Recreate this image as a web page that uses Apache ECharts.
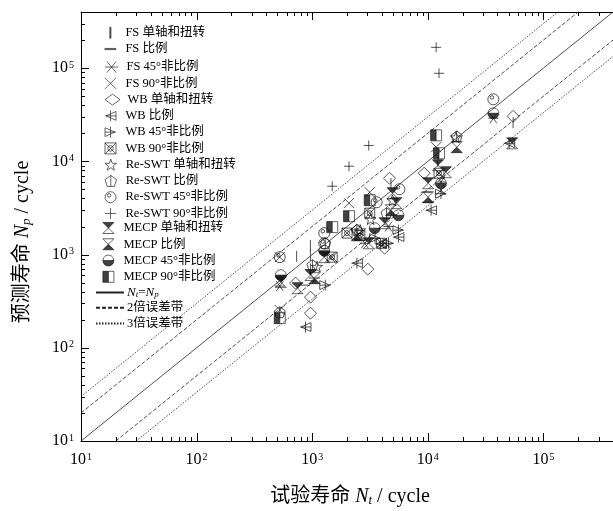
<!DOCTYPE html>
<html><head><meta charset="utf-8">
<script src="https://cdn.jsdelivr.net/npm/echarts@6/dist/echarts.min.js"></script>
<style>html,body{margin:0;padding:0;background:#fff}#c{width:613px;height:511px}</style>
</head><body><div id="c"></div>
<script>
// ---------- data (Nt, Np) ----------
const fsUniaxial   = [[733,960],[966,1250],[966,986],[966,700],[4800,5800],[54700,26000],[12200,10000]];
const fsProp       = [[2437,1460],[857,470],[9700,4660],[10000,3640],[1045,560]];
const fs45         = [[36900,29000],[2851,1320],[524,459],[13000,6000],[4573,2000]];
const fs90         = [[524,938],[3145,4660],[2080,3560],[13000,4900],[11800,14200],[524,254],[1432,938],[12500,7450]];
const wbUniaxial   = [[4667,6590],[9300,7450],[54700,30400],[966,349],[966,235],[718,494],[3025,698],[4229,1170],[2437,1830]];
const wbProp       = [[875,167],[2437,809],[5570,1540],[10670,2990],[50600,15600],[3900,1300]];
const wb45         = [[1297,470],[5570,1830],[4573,1320],[13000,4500],[3500,1500]];
const wb90         = [[1489,938],[3145,2780],[2000,1700],[3985,1320],[12500,7450],[2585,1600]];
const reUniaxial   = [[17500,18100],[4950,3830],[2600,1830],[1100,740],[3200,2400]];
const reProp       = [[17800,18500],[4398,2780],[2437,1830],[1297,1320],[1004,770],[524,241]];
const re45         = [[36900,46300],[5685,5020],[3611,3640],[1271,1700],[524,938],[1271,1320]];
const re90         = [[11800,167000],[12500,88000],[3084,14800],[2080,8860],[1489,5410]];
const mecpUniaxial = [[4950,4550],[12250,9080],[14350,7640],[10060,5820],[4229,2170],[3084,1320],[1271,938],[966,602],[535,506],[747,436],[53700,15600],[5355,3560]];
const mecpProp     = [[17800,14200],[10060,4120],[2437,1610],[1045,558],[4800,2990]];
const mecp45       = [[36900,32800],[13000,5820],[5570,2640],[3473,1920],[535,602],[1271,1100]];
const mecp90       = [[11800,19000],[12500,12200],[3145,3830],[2080,2580],[1489,1970],[524,208]];

const seriesNames = ['FS 单轴和扭转','FS 比例','FS 45°非比例','FS 90°非比例','WB 单轴和扭转','WB 比例','WB 45°非比例','WB 90°非比例',
  'Re-SWT 单轴和扭转','Re-SWT 比例','Re-SWT 45°非比例','Re-SWT 90°非比例','MECP 单轴和扭转','MECP 比例','MECP 45°非比例','MECP 90°非比例'];
const lineNames = ['Nt=Np','2倍误差带','3倍误差带'];
const bandFactors = [1, 2, 3];
const axisMin = 10, axisMax = 400000;
const decadeTicks = [10, 100, 1000, 10000, 100000];
const minorMultipliers = [1,2,3,4,5,6,7,8,9];

// ---------- styling ----------
const SERIF = '"Liberation Serif","Times New Roman","Noto Sans CJK SC",serif';
const K = '#111';
const P = {
  ast:   'path://M0,5L10,5M1.5,0.8L8.5,9.2M1.5,9.2L8.5,0.8',
  x:     'path://M0,0L10,10M0,10L10,0',
  triL:  'path://M10,1L1,5L10,9ZM5,0L5,10M0,5L10,5',
  triR:  'path://M0,1L9,5L0,9ZM5,0L5,10M0,5L10,5',
  boxX:  'path://M0,0L10,0L10,10L0,10ZM0,0L10,10M10,0L0,10M7.5,5A2.5,2.5 0 1,1 2.5,5A2.5,2.5 0 1,1 7.5,5Z',
  star:  'path://M5,0L6.176,3.382L9.755,3.455L6.902,5.618L7.939,9.045L5,7L2.061,9.045L3.098,5.618L0.245,3.455L3.824,3.382Z',
  pent:  'path://M5,0L9.755,3.455L7.939,9.045L2.061,9.045L0.245,3.455ZM5,0L5,9.045',
  circ:  'path://M10,5A5,5 0 1,1 0,5A5,5 0 1,1 10,5ZM5.3,3.3A1.6,1.6 0 1,1 2.1,3.3A1.6,1.6 0 1,1 5.3,3.3Z',
  plus:  'path://M5,0L5,10M0,5L10,5',
  hgDown:'path://M0,0L10,0L5,5ZM5,5L0,10M0,10L10,10M10,10L5,5',
  hgUp:  'path://M5,5L0,10L10,10ZM5,5L0,0M0,0L10,0M10,0L5,5',
  halfC: 'path://M0,5A5,5 0 0,0 10,5ZM0,5L0.67,2.5M0.67,2.5L2.5,0.67M2.5,0.67L5,0M5,0L7.5,0.67M7.5,0.67L9.33,2.5M9.33,2.5L10,5',
  halfS: 'path://M0,0L5,0L5,10L0,10ZM5,0L10,0M10,0L10,10M10,10L5,10'
};
function hollow(name, data, symbol, size) {
  return {name, type:'scatter', data, symbol, symbolSize:size, z:5,
    itemStyle:{color:'none', borderColor:K, borderWidth:0.9}};
}
function solid(name, data, symbol, size, color, bw) {
  return {name, type:'scatter', data, symbol, symbolSize:size, z:5,
    itemStyle:{color:color||K, borderColor:color||K, borderWidth:bw===undefined?0.8:bw}};
}
const series = [
  solid(seriesNames[0], fsUniaxial, 'rect', [1.1,11], '#333', 0),
  solid(seriesNames[1], fsProp, 'rect', [11,1.1], '#333', 0),
  hollow(seriesNames[2], fs45, P.ast, 10),
  hollow(seriesNames[3], fs90, P.x, 10),
  hollow(seriesNames[4], wbUniaxial, 'diamond', 12),
  hollow(seriesNames[5], wbProp, P.triL, 11),
  hollow(seriesNames[6], wb45, P.triR, 11),
  hollow(seriesNames[7], wb90, P.boxX, 10),
  hollow(seriesNames[8], reUniaxial, P.star, 11),
  hollow(seriesNames[9], reProp, P.pent, 11),
  hollow(seriesNames[10], re45, P.circ, 11),
  hollow(seriesNames[11], re90, P.plus, 10),
  solid(seriesNames[12], mecpUniaxial, P.hgDown, 11),
  solid(seriesNames[13], mecpProp, P.hgUp, 11),
  solid(seriesNames[14], mecp45, P.halfC, 11),
  solid(seriesNames[15], mecp90, P.halfS, 11)
];
const lineTypes = ['solid', [4,2], [1.5,1.5]];
bandFactors.forEach((f, i) => {
  const upper = [[axisMin, axisMin*f],[axisMax, axisMax*f]];
  const lower = [[axisMin*f, axisMin],[axisMax*f, axisMax]];
  const mk = d => ({name: lineNames[i], type:'line', data:d, symbol:'none', z:2, silent:true,
    lineStyle:{color:'#222', width:0.8, type: lineTypes[i]}, itemStyle:{color:'#222', opacity:0}});
  series.push(mk(upper));
  if (f !== 1) series.push(mk(lower));
});

// tick marks drawn through the axis scales
const lg = Math.log10;
const tickValues = [];
decadeTicks.forEach(d => minorMultipliers.forEach(m => { if (d*m < axisMax) tickValues.push(d*m); }));
function tickLen(v){ const e = lg(v); return Math.abs(e-Math.round(e))<1e-6 ? 8 : 4; }
function ln(x1,y1,x2,y2){ return {type:'line', shape:{x1,y1,x2,y2}, style:{stroke:'#000', lineWidth:1}}; }
series.push({type:'custom', silent:true, z:6, clip:false, data: tickValues.map(v=>[v]),
  renderItem:(params, api) => {
    const v = api.value(0), L = tickLen(v);
    const b = api.coord([v, axisMin]), t = api.coord([v, axisMax]);
    const x = Math.round(b[0]) + 0.5;
    return {type:'group', children:[ln(x, b[1], x, b[1]-L), ln(x, t[1], x, t[1]+L)]};
  }});
series.push({type:'custom', silent:true, z:6, clip:false, data: tickValues.map(v=>[axisMin, v]),
  renderItem:(params, api) => {
    const v = api.value(1), L = tickLen(v);
    const p = api.coord([axisMin, v]);
    const y = Math.round(p[1]) + 0.5;
    return ln(p[0], y, p[0]+L, y);
  }});

const supRich = {
  b:{fontSize:16, fontFamily:SERIF, color:'#000'},
  s:{fontSize:10, fontFamily:SERIF, color:'#000', verticalAlign:'top', padding:[0,0,0,1]}
};
function decFmt(v){ const e = lg(v); if (Math.abs(e-Math.round(e))>1e-6) return ''; return '{b|10}{s|'+Math.round(e)+'}'; }

// legends: one row each, for exact row placement
const legends = [];
seriesNames.forEach((n, i) => {
  const base = {orient:'vertical', top:21.5 + i*16.27, itemStyle:{borderWidth:0.8}, data:[n]};
  let cfg;
  if (i === 0) cfg = {left:104.4, itemWidth:1.2, itemHeight:11, icon:'rect', pad:9.4};
  else if (i === 1) cfg = {left:99.5, itemWidth:11, itemHeight:1.2, icon:'rect', pad:4.5};
  else cfg = {left:97.5, itemWidth:15, itemHeight:11, pad:2.5};
  const lgd = Object.assign(base, {left:cfg.left, itemWidth:cfg.itemWidth, itemHeight:cfg.itemHeight,
    textStyle:{fontFamily:SERIF, fontSize:12.5, color:'#000', padding:[0,0,0,cfg.pad]}});
  if (cfg.icon) { lgd.icon = cfg.icon; lgd.symbolKeepAspect = false; }
  legends.push(lgd);
});
const lineRich = {i:{fontStyle:'italic', fontFamily:SERIF, fontSize:13, color:'#000'},
  sb:{fontStyle:'italic', fontFamily:SERIF, fontSize:9, color:'#000', verticalAlign:'bottom'},
  n:{fontFamily:SERIF, fontSize:13, color:'#000'}};
lineNames.forEach((n, i) => {
  legends.push({orient:'vertical', left:90, top:281 + i*15.6, itemWidth:28, itemHeight:12,
    data:[n],
    formatter: nm => nm === 'Nt=Np' ? '{i|N}{sb|t}{n|=}{i|N}{sb|p}' : nm,
    textStyle:{fontFamily:SERIF, fontSize:12.5, color:'#000', padding:[0,0,0,-2], rich:lineRich}});
});

const option = {
  animation:false,
  backgroundColor:'#fff',
  grid:{left:81, top:12, bottom:70, right:-6, containLabel:false},
  xAxis:[
    {type:'log', logBase:10, min:axisMin, max:axisMax, position:'bottom',
     axisLine:{show:true, lineStyle:{color:'#000', width:1}},
     axisTick:{show:false},
     axisLabel:{formatter:decFmt, rich:supRich, margin:11, showMaxLabel:false},
     splitLine:{show:false}},
    {type:'log', logBase:10, min:axisMin, max:axisMax, position:'top',
     axisLine:{show:true, lineStyle:{color:'#000', width:1}},
     axisTick:{show:false}, axisLabel:{show:false}, splitLine:{show:false}}
  ],
  yAxis:[
    {type:'log', logBase:10, min:axisMin, max:axisMax, position:'left',
     axisLine:{show:true, lineStyle:{color:'#000', width:1}},
     axisTick:{show:false},
     axisLabel:{formatter:decFmt, rich:supRich, margin:7, showMaxLabel:false},
     splitLine:{show:false}}
  ],
  legend: legends,
  graphic:[
    {type:'text', x:350, y:497, z:10,
     style:{text:'{c|试验寿命 }{i|N}{sb|t}{c| / cycle}', align:'center', verticalAlign:'middle', textAlign:'center', textVerticalAlign:'middle',
       rich:{c:{fontFamily:SERIF, fontSize:20, fill:'#000'}, i:{fontFamily:SERIF, fontStyle:'italic', fontSize:20, fill:'#000'},
             sb:{fontFamily:SERIF, fontStyle:'italic', fontSize:13, fill:'#000', verticalAlign:'bottom'}}}},
    {type:'text', x:23, y:242, rotation:Math.PI/2, z:10,
     style:{text:'{c|预测寿命 }{i|N}{sb|p}{c| / cycle}', align:'center', verticalAlign:'middle', textAlign:'center', textVerticalAlign:'middle',
       rich:{c:{fontFamily:SERIF, fontSize:20, fill:'#000'}, i:{fontFamily:SERIF, fontStyle:'italic', fontSize:20, fill:'#000'},
             sb:{fontFamily:SERIF, fontStyle:'italic', fontSize:13, fill:'#000', verticalAlign:'bottom'}}}}
  ],
  series: series
};
echarts.init(document.getElementById('c'), null, {renderer:'canvas'}).setOption(option);
</script>
</body></html>
